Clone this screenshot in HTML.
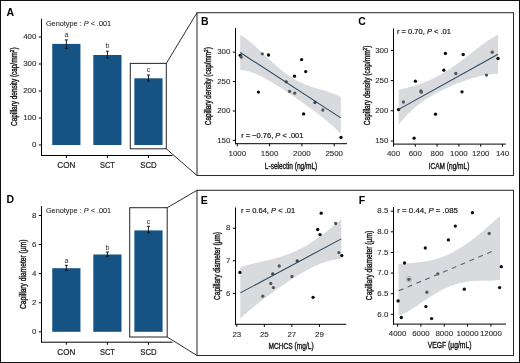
<!DOCTYPE html>
<html><head><meta charset="utf-8"><style>
html,body{margin:0;padding:0;background:#fff;}
svg{display:block;font-family:"Liberation Sans", sans-serif;will-change:transform;}
</style></head><body>
<svg width="520" height="363" viewBox="0 0 520 363">
<rect width="520" height="363" fill="#fff"/>
<rect x="0.5" y="0.5" width="519" height="362" fill="none" stroke="#111" stroke-width="1"/>
<line x1="41.5" y1="18.7" x2="41.5" y2="156.0" stroke="#000" stroke-width="1" />
<line x1="41" y1="155.5" x2="172.5" y2="155.5" stroke="#000" stroke-width="1" />
<line x1="38.8" y1="145.0" x2="41.5" y2="145.0" stroke="#000" stroke-width="1" />
<text x="36.3" y="147.2" font-size="7.9" text-anchor="end" fill="#2a2a2a" font-weight="normal" stroke="#2a2a2a" stroke-width="0.1">0</text>
<line x1="38.8" y1="118.0" x2="41.5" y2="118.0" stroke="#000" stroke-width="1" />
<text x="36.3" y="120.2" font-size="7.9" text-anchor="end" fill="#2a2a2a" font-weight="normal" stroke="#2a2a2a" stroke-width="0.1">100</text>
<line x1="38.8" y1="91.0" x2="41.5" y2="91.0" stroke="#000" stroke-width="1" />
<text x="36.3" y="93.2" font-size="7.9" text-anchor="end" fill="#2a2a2a" font-weight="normal" stroke="#2a2a2a" stroke-width="0.1">200</text>
<line x1="38.8" y1="64.0" x2="41.5" y2="64.0" stroke="#000" stroke-width="1" />
<text x="36.3" y="66.2" font-size="7.9" text-anchor="end" fill="#2a2a2a" font-weight="normal" stroke="#2a2a2a" stroke-width="0.1">300</text>
<line x1="38.8" y1="37.0" x2="41.5" y2="37.0" stroke="#000" stroke-width="1" />
<text x="36.3" y="39.2" font-size="7.9" text-anchor="end" fill="#2a2a2a" font-weight="normal" stroke="#2a2a2a" stroke-width="0.1">400</text>
<line x1="66.35" y1="155.5" x2="66.35" y2="158.1" stroke="#000" stroke-width="1" />
<line x1="107.4" y1="155.5" x2="107.4" y2="158.1" stroke="#000" stroke-width="1" />
<line x1="148.45" y1="155.5" x2="148.45" y2="158.1" stroke="#000" stroke-width="1" />
<text x="66.35" y="167.8" font-size="8.5" text-anchor="middle" fill="#2a2a2a" font-weight="normal" textLength="18.0" lengthAdjust="spacingAndGlyphs" stroke="#222" stroke-width="0.22">CON</text>
<text x="107.4" y="167.8" font-size="8.5" text-anchor="middle" fill="#2a2a2a" font-weight="normal" textLength="15.0" lengthAdjust="spacingAndGlyphs" stroke="#222" stroke-width="0.22">SCT</text>
<text x="148.45" y="167.8" font-size="8.5" text-anchor="middle" fill="#2a2a2a" font-weight="normal" textLength="16.4" lengthAdjust="spacingAndGlyphs" stroke="#222" stroke-width="0.22">SCD</text>
<rect x="52.24999999999999" y="43.9" width="28.2" height="101.1" fill="#155385"/>
<line x1="66.35" y1="39.9" x2="66.35" y2="48.4" stroke="#111" stroke-width="0.95" />
<line x1="64.85" y1="39.9" x2="67.85" y2="39.9" stroke="#111" stroke-width="0.95" />
<line x1="64.85" y1="48.4" x2="67.85" y2="48.4" stroke="#111" stroke-width="0.95" />
<text x="66.35" y="37.4" font-size="7.0" text-anchor="middle" fill="#2a2a2a" font-weight="normal" >a</text>
<rect x="93.30000000000001" y="55.0" width="28.2" height="90.0" fill="#155385"/>
<line x1="107.4" y1="51.2" x2="107.4" y2="58.1" stroke="#111" stroke-width="0.95" />
<line x1="105.9" y1="51.2" x2="108.9" y2="51.2" stroke="#111" stroke-width="0.95" />
<line x1="105.9" y1="58.1" x2="108.9" y2="58.1" stroke="#111" stroke-width="0.95" />
<text x="107.4" y="48.3" font-size="7.0" text-anchor="middle" fill="#2a2a2a" font-weight="normal" >b</text>
<rect x="134.35" y="78.3" width="28.2" height="66.7" fill="#155385"/>
<line x1="148.45" y1="75.0" x2="148.45" y2="81.0" stroke="#111" stroke-width="0.95" />
<line x1="146.95" y1="75.0" x2="149.95" y2="75.0" stroke="#111" stroke-width="0.95" />
<line x1="146.95" y1="81.0" x2="149.95" y2="81.0" stroke="#111" stroke-width="0.95" />
<text x="148.45" y="71.7" font-size="7.0" text-anchor="middle" fill="#2a2a2a" font-weight="normal" >c</text>
<text x="45.9" y="25.8" font-size="7.5" fill="#222" stroke="#222" stroke-width="0.06" textLength="65.3" lengthAdjust="spacingAndGlyphs">Genotype : <tspan font-style="italic">P</tspan> &lt; .001</text>
<text transform="translate(17.0,86.7) rotate(-90)" x="0" y="0" font-size="8.4" text-anchor="middle" fill="#1a1a1a" stroke="#1a1a1a" stroke-width="0.4" textLength="78.5" lengthAdjust="spacingAndGlyphs">Capillary density (cap/mm<tspan font-size="6" dy="-3">2</tspan><tspan dy="3">)</tspan></text>
<text x="6.6" y="15.7" font-size="10.5" text-anchor="start" fill="#000" font-weight="bold" >A</text>
<rect x="130.3" y="63.4" width="36.0" height="85.4" fill="none" stroke="#2e2e2e" stroke-width="1.05"/>
<line x1="166.3" y1="63.4" x2="197" y2="12.7" stroke="#2e2e2e" stroke-width="1.0" />
<line x1="166.3" y1="148.8" x2="197" y2="175.5" stroke="#2e2e2e" stroke-width="1.0" />
<line x1="41.5" y1="206" x2="41.5" y2="342.7" stroke="#000" stroke-width="1" />
<line x1="41" y1="342.2" x2="172.5" y2="342.2" stroke="#000" stroke-width="1" />
<line x1="38.8" y1="331.8" x2="41.5" y2="331.8" stroke="#000" stroke-width="1" />
<text x="36.3" y="334.0" font-size="7.9" text-anchor="end" fill="#2a2a2a" font-weight="normal" stroke="#2a2a2a" stroke-width="0.1">0</text>
<line x1="38.8" y1="302.72" x2="41.5" y2="302.72" stroke="#000" stroke-width="1" />
<text x="36.3" y="304.92" font-size="7.9" text-anchor="end" fill="#2a2a2a" font-weight="normal" stroke="#2a2a2a" stroke-width="0.1">2</text>
<line x1="38.8" y1="273.64" x2="41.5" y2="273.64" stroke="#000" stroke-width="1" />
<text x="36.3" y="275.84" font-size="7.9" text-anchor="end" fill="#2a2a2a" font-weight="normal" stroke="#2a2a2a" stroke-width="0.1">4</text>
<line x1="38.8" y1="244.56" x2="41.5" y2="244.56" stroke="#000" stroke-width="1" />
<text x="36.3" y="246.76" font-size="7.9" text-anchor="end" fill="#2a2a2a" font-weight="normal" stroke="#2a2a2a" stroke-width="0.1">6</text>
<line x1="38.8" y1="215.48000000000002" x2="41.5" y2="215.48000000000002" stroke="#000" stroke-width="1" />
<text x="36.3" y="217.68" font-size="7.9" text-anchor="end" fill="#2a2a2a" font-weight="normal" stroke="#2a2a2a" stroke-width="0.1">8</text>
<line x1="66.35" y1="342.2" x2="66.35" y2="344.8" stroke="#000" stroke-width="1" />
<line x1="107.4" y1="342.2" x2="107.4" y2="344.8" stroke="#000" stroke-width="1" />
<line x1="148.45" y1="342.2" x2="148.45" y2="344.8" stroke="#000" stroke-width="1" />
<text x="66.35" y="354.5" font-size="8.5" text-anchor="middle" fill="#2a2a2a" font-weight="normal" textLength="18.0" lengthAdjust="spacingAndGlyphs" stroke="#222" stroke-width="0.22">CON</text>
<text x="107.4" y="354.5" font-size="8.5" text-anchor="middle" fill="#2a2a2a" font-weight="normal" textLength="15.0" lengthAdjust="spacingAndGlyphs" stroke="#222" stroke-width="0.22">SCT</text>
<text x="148.45" y="354.5" font-size="8.5" text-anchor="middle" fill="#2a2a2a" font-weight="normal" textLength="16.4" lengthAdjust="spacingAndGlyphs" stroke="#222" stroke-width="0.22">SCD</text>
<rect x="52.24999999999999" y="268.2" width="28.2" height="63.60000000000002" fill="#155385"/>
<line x1="66.35" y1="265.3" x2="66.35" y2="270.6" stroke="#111" stroke-width="0.95" />
<line x1="64.85" y1="265.3" x2="67.85" y2="265.3" stroke="#111" stroke-width="0.95" />
<line x1="64.85" y1="270.6" x2="67.85" y2="270.6" stroke="#111" stroke-width="0.95" />
<text x="66.35" y="262.6" font-size="7.0" text-anchor="middle" fill="#2a2a2a" font-weight="normal" >a</text>
<rect x="93.30000000000001" y="254.5" width="28.2" height="77.30000000000001" fill="#155385"/>
<line x1="107.4" y1="252.0" x2="107.4" y2="256.2" stroke="#111" stroke-width="0.95" />
<line x1="105.9" y1="252.0" x2="108.9" y2="252.0" stroke="#111" stroke-width="0.95" />
<line x1="105.9" y1="256.2" x2="108.9" y2="256.2" stroke="#111" stroke-width="0.95" />
<text x="107.4" y="249.6" font-size="7.0" text-anchor="middle" fill="#2a2a2a" font-weight="normal" >b</text>
<rect x="134.35" y="230.4" width="28.2" height="101.4" fill="#155385"/>
<line x1="148.45" y1="226.3" x2="148.45" y2="232.8" stroke="#111" stroke-width="0.95" />
<line x1="146.95" y1="226.3" x2="149.95" y2="226.3" stroke="#111" stroke-width="0.95" />
<line x1="146.95" y1="232.8" x2="149.95" y2="232.8" stroke="#111" stroke-width="0.95" />
<text x="148.45" y="223.7" font-size="7.0" text-anchor="middle" fill="#2a2a2a" font-weight="normal" >c</text>
<text x="45.9" y="213.1" font-size="7.5" fill="#222" stroke="#222" stroke-width="0.06" textLength="65.3" lengthAdjust="spacingAndGlyphs">Genotype : <tspan font-style="italic">P</tspan> &lt; .001</text>
<text transform="translate(25.8,274.3) rotate(-90)" x="0" y="0" font-size="8.4" text-anchor="middle" fill="#1a1a1a" stroke="#1a1a1a" stroke-width="0.4" textLength="69.5" lengthAdjust="spacingAndGlyphs">Capillary diameter (µm)</text>
<text x="6.6" y="203.2" font-size="10.5" text-anchor="start" fill="#000" font-weight="bold" >D</text>
<rect x="129.7" y="207.7" width="37.5" height="129.3" fill="none" stroke="#2e2e2e" stroke-width="1.05"/>
<line x1="167.2" y1="207.7" x2="197" y2="190.3" stroke="#2e2e2e" stroke-width="1.0" />
<line x1="167.2" y1="337.0" x2="197" y2="355.5" stroke="#2e2e2e" stroke-width="1.0" />
<rect x="197" y="12.7" width="316.5" height="162.8" fill="none" stroke="#2e2e2e" stroke-width="1.05"/>
<rect x="197" y="190.3" width="316.5" height="165.2" fill="none" stroke="#2e2e2e" stroke-width="1.05"/>
<path d="M240.20,34.66 L241.47,35.40 L242.75,36.20 L244.02,37.05 L245.29,37.95 L246.57,38.90 L247.84,39.89 L249.11,40.91 L250.39,41.97 L251.66,43.05 L252.93,44.17 L254.21,45.30 L255.48,46.46 L256.75,47.63 L258.03,48.82 L259.30,50.02 L260.57,51.22 L261.85,52.44 L263.12,53.65 L264.39,54.86 L265.67,56.07 L266.94,57.28 L268.22,58.48 L269.49,59.67 L270.76,60.86 L272.04,62.03 L273.31,63.18 L274.58,64.32 L275.86,65.44 L277.13,66.54 L278.40,67.62 L279.68,68.68 L280.95,69.72 L282.22,70.74 L283.50,71.73 L284.77,72.69 L286.04,73.63 L287.32,74.54 L288.59,75.43 L289.86,76.29 L291.14,77.12 L292.41,77.92 L293.68,78.69 L294.96,79.44 L296.23,80.16 L297.50,80.85 L298.78,81.52 L300.05,82.15 L301.32,82.76 L302.60,83.35 L303.87,83.91 L305.14,84.45 L306.42,84.97 L307.69,85.46 L308.96,85.93 L310.24,86.39 L311.51,86.83 L312.78,87.25 L314.06,87.65 L315.33,88.05 L316.61,88.43 L317.88,88.80 L319.15,89.17 L320.43,89.53 L321.70,89.89 L322.97,90.26 L324.25,90.62 L325.52,90.99 L326.79,91.36 L328.07,91.75 L329.34,92.15 L330.61,92.56 L331.89,93.00 L333.16,93.46 L334.43,93.94 L335.71,94.46 L336.98,95.00 L338.25,95.59 L339.53,96.21 L340.80,96.88 L340.80,133.72 L339.53,132.42 L338.25,131.16 L336.98,129.92 L335.71,128.72 L334.43,127.53 L333.16,126.37 L331.89,125.23 L330.61,124.11 L329.34,123.01 L328.07,121.93 L326.79,120.87 L325.52,119.82 L324.25,118.79 L322.97,117.77 L321.70,116.76 L320.43,115.77 L319.15,114.79 L317.88,113.81 L316.61,112.85 L315.33,111.89 L314.06,110.95 L312.78,110.01 L311.51,109.08 L310.24,108.15 L308.96,107.23 L307.69,106.31 L306.42,105.40 L305.14,104.49 L303.87,103.59 L302.60,102.69 L301.32,101.80 L300.05,100.90 L298.78,100.02 L297.50,99.13 L296.23,98.25 L294.96,97.37 L293.68,96.49 L292.41,95.62 L291.14,94.75 L289.86,93.88 L288.59,93.02 L287.32,92.16 L286.04,91.31 L284.77,90.46 L283.50,89.61 L282.22,88.77 L280.95,87.94 L279.68,87.12 L278.40,86.30 L277.13,85.49 L275.86,84.69 L274.58,83.89 L273.31,83.11 L272.04,82.34 L270.76,81.58 L269.49,80.83 L268.22,80.10 L266.94,79.38 L265.67,78.68 L264.39,78.00 L263.12,77.33 L261.85,76.69 L260.57,76.06 L259.30,75.46 L258.03,74.88 L256.75,74.32 L255.48,73.79 L254.21,73.29 L252.93,72.82 L251.66,72.38 L250.39,71.97 L249.11,71.60 L247.84,71.26 L246.57,70.96 L245.29,70.70 L244.02,70.48 L242.75,70.30 L241.47,70.17 L240.20,70.09 Z" fill="#d9dadd"/>
<circle cx="240.2" cy="55.3" r="1.65" fill="#0a0a0a"/>
<circle cx="241.2" cy="57" r="1.65" fill="#535559"/>
<circle cx="262.3" cy="53.8" r="1.65" fill="#535559"/>
<circle cx="268.5" cy="55" r="1.65" fill="#0a0a0a"/>
<circle cx="301.6" cy="59.6" r="1.65" fill="#0a0a0a"/>
<circle cx="305.7" cy="71.6" r="1.65" fill="#0a0a0a"/>
<circle cx="294.5" cy="76.2" r="1.65" fill="#0a0a0a"/>
<circle cx="286.2" cy="81.8" r="1.65" fill="#3c4854"/>
<circle cx="258.4" cy="92.1" r="1.65" fill="#0a0a0a"/>
<circle cx="289.6" cy="91.4" r="1.65" fill="#535559"/>
<circle cx="294.7" cy="93.2" r="1.65" fill="#535559"/>
<circle cx="315" cy="102.5" r="1.65" fill="#3c4854"/>
<circle cx="322.9" cy="110" r="1.65" fill="#535559"/>
<circle cx="303.6" cy="113.9" r="1.65" fill="#0a0a0a"/>
<circle cx="341" cy="137.4" r="1.65" fill="#0a0a0a"/>
<line x1="240.2" y1="52.5" x2="340.8" y2="117.9" stroke="#2a4560" stroke-width="1.05"/>
<line x1="235.5" y1="28" x2="235.5" y2="144.2" stroke="#000" stroke-width="1" />
<line x1="235.0" y1="143.7" x2="347" y2="143.7" stroke="#000" stroke-width="1" />
<line x1="232.8" y1="140.405" x2="235.5" y2="140.405" stroke="#000" stroke-width="1" />
<text x="230.3" y="142.605" font-size="7.9" text-anchor="end" fill="#2a2a2a" font-weight="normal" stroke="#2a2a2a" stroke-width="0.1">150</text>
<line x1="232.8" y1="110.97" x2="235.5" y2="110.97" stroke="#000" stroke-width="1" />
<text x="230.3" y="113.17" font-size="7.9" text-anchor="end" fill="#2a2a2a" font-weight="normal" stroke="#2a2a2a" stroke-width="0.1">200</text>
<line x1="232.8" y1="81.535" x2="235.5" y2="81.535" stroke="#000" stroke-width="1" />
<text x="230.3" y="83.735" font-size="7.9" text-anchor="end" fill="#2a2a2a" font-weight="normal" stroke="#2a2a2a" stroke-width="0.1">250</text>
<line x1="232.8" y1="52.1" x2="235.5" y2="52.1" stroke="#000" stroke-width="1" />
<text x="230.3" y="54.300000000000004" font-size="7.9" text-anchor="end" fill="#2a2a2a" font-weight="normal" stroke="#2a2a2a" stroke-width="0.1">300</text>
<line x1="237.3" y1="143.7" x2="237.3" y2="146.29999999999998" stroke="#000" stroke-width="1" />
<text x="237.3" y="156.0" font-size="7.9" text-anchor="middle" fill="#2a2a2a" font-weight="normal" stroke="#2a2a2a" stroke-width="0.1">1000</text>
<line x1="269.6" y1="143.7" x2="269.6" y2="146.29999999999998" stroke="#000" stroke-width="1" />
<text x="269.6" y="156.0" font-size="7.9" text-anchor="middle" fill="#2a2a2a" font-weight="normal" stroke="#2a2a2a" stroke-width="0.1">1500</text>
<line x1="301.90000000000003" y1="143.7" x2="301.90000000000003" y2="146.29999999999998" stroke="#000" stroke-width="1" />
<text x="301.90000000000003" y="156.0" font-size="7.9" text-anchor="middle" fill="#2a2a2a" font-weight="normal" stroke="#2a2a2a" stroke-width="0.1">2000</text>
<line x1="334.20000000000005" y1="143.7" x2="334.20000000000005" y2="146.29999999999998" stroke="#000" stroke-width="1" />
<text x="334.20000000000005" y="156.0" font-size="7.9" text-anchor="middle" fill="#2a2a2a" font-weight="normal" stroke="#2a2a2a" stroke-width="0.1">2500</text>
<text x="264.8" y="168.6" font-size="8.4" text-anchor="start" fill="#1a1a1a" font-weight="normal" textLength="52.5" lengthAdjust="spacingAndGlyphs" stroke="#1a1a1a" stroke-width="0.4">L-selectin (ng/mL)</text>
<text transform="translate(211.2,86.2) rotate(-90)" x="0" y="0" font-size="8.4" text-anchor="middle" fill="#1a1a1a" stroke="#1a1a1a" stroke-width="0.4" textLength="78" lengthAdjust="spacingAndGlyphs">Capillary density (cap/mm<tspan font-size="6" dy="-3">2</tspan><tspan dy="3">)</tspan></text>
<text x="241.2" y="137.6" font-size="7.9" fill="#1a1a1a" stroke="#222" stroke-width="0.22" textLength="62.2" lengthAdjust="spacingAndGlyphs">r = −0.76, <tspan font-style="italic">P</tspan> &lt; .001</text>
<text x="201" y="24.8" font-size="10.5" text-anchor="start" fill="#000" font-weight="bold" >B</text>
<path d="M398.70,89.86 L399.96,89.55 L401.21,89.24 L402.47,88.93 L403.73,88.61 L404.98,88.30 L406.24,87.98 L407.50,87.65 L408.76,87.32 L410.01,86.98 L411.27,86.63 L412.53,86.28 L413.78,85.91 L415.04,85.53 L416.30,85.14 L417.55,84.74 L418.81,84.32 L420.07,83.89 L421.33,83.45 L422.58,82.99 L423.84,82.52 L425.10,82.03 L426.35,81.52 L427.61,81.00 L428.87,80.46 L430.12,79.90 L431.38,79.33 L432.64,78.74 L433.89,78.13 L435.15,77.51 L436.41,76.86 L437.67,76.20 L438.92,75.52 L440.18,74.82 L441.44,74.11 L442.69,73.38 L443.95,72.63 L445.21,71.86 L446.46,71.08 L447.72,70.28 L448.98,69.47 L450.24,68.64 L451.49,67.79 L452.75,66.93 L454.01,66.06 L455.26,65.18 L456.52,64.28 L457.78,63.37 L459.03,62.45 L460.29,61.52 L461.55,60.57 L462.81,59.63 L464.06,58.67 L465.32,57.71 L466.58,56.74 L467.83,55.76 L469.09,54.79 L470.35,53.81 L471.60,52.83 L472.86,51.85 L474.12,50.87 L475.37,49.89 L476.63,48.92 L477.89,47.96 L479.15,47.00 L480.40,46.05 L481.66,45.11 L482.92,44.18 L484.17,43.26 L485.43,42.36 L486.69,41.48 L487.94,40.62 L489.20,39.77 L490.46,38.95 L491.72,38.15 L492.97,37.38 L494.23,36.63 L495.49,35.92 L496.74,35.24 L498.00,34.59 L498.00,73.94 L496.74,73.93 L495.49,73.96 L494.23,74.01 L492.97,74.09 L491.72,74.19 L490.46,74.32 L489.20,74.47 L487.94,74.65 L486.69,74.84 L485.43,75.05 L484.17,75.29 L482.92,75.54 L481.66,75.81 L480.40,76.09 L479.15,76.39 L477.89,76.71 L476.63,77.03 L475.37,77.38 L474.12,77.73 L472.86,78.10 L471.60,78.48 L470.35,78.87 L469.09,79.27 L467.83,79.69 L466.58,80.11 L465.32,80.54 L464.06,80.98 L462.81,81.44 L461.55,81.90 L460.29,82.37 L459.03,82.84 L457.78,83.33 L456.52,83.83 L455.26,84.33 L454.01,84.85 L452.75,85.37 L451.49,85.90 L450.24,86.44 L448.98,86.99 L447.72,87.56 L446.46,88.13 L445.21,88.71 L443.95,89.30 L442.69,89.90 L441.44,90.52 L440.18,91.14 L438.92,91.78 L437.67,92.44 L436.41,93.11 L435.15,93.79 L433.89,94.49 L432.64,95.20 L431.38,95.93 L430.12,96.68 L428.87,97.45 L427.61,98.23 L426.35,99.04 L425.10,99.87 L423.84,100.73 L422.58,101.60 L421.33,102.50 L420.07,103.43 L418.81,104.39 L417.55,105.37 L416.30,106.38 L415.04,107.43 L413.78,108.51 L412.53,109.62 L411.27,110.77 L410.01,111.95 L408.76,113.17 L407.50,114.44 L406.24,115.74 L404.98,117.09 L403.73,118.49 L402.47,119.93 L401.21,121.42 L399.96,122.96 L398.70,124.55 Z" fill="#d9dadd"/>
<circle cx="445.4" cy="53.4" r="1.65" fill="#0a0a0a"/>
<circle cx="463.2" cy="54.5" r="1.65" fill="#0a0a0a"/>
<circle cx="492.2" cy="52.2" r="1.65" fill="#535559"/>
<circle cx="498" cy="58.5" r="1.65" fill="#0a0a0a"/>
<circle cx="443.8" cy="70.2" r="1.65" fill="#0a0a0a"/>
<circle cx="455.8" cy="73.5" r="1.65" fill="#535559"/>
<circle cx="486.5" cy="75.1" r="1.65" fill="#535559"/>
<circle cx="415.4" cy="81.2" r="1.65" fill="#0a0a0a"/>
<circle cx="420.9" cy="91.0" r="1.65" fill="#535559"/>
<circle cx="421.3" cy="92.2" r="1.65" fill="#535559"/>
<circle cx="462" cy="91.8" r="1.65" fill="#0a0a0a"/>
<circle cx="403.4" cy="102" r="1.65" fill="#535559"/>
<circle cx="398.5" cy="109.6" r="1.65" fill="#0a0a0a"/>
<circle cx="435.5" cy="114.2" r="1.65" fill="#0a0a0a"/>
<circle cx="414.1" cy="138.2" r="1.65" fill="#0a0a0a"/>
<line x1="398.7" y1="109.4" x2="498" y2="54.3" stroke="#2a4560" stroke-width="1.05"/>
<line x1="393.5" y1="28.5" x2="393.5" y2="144.6" stroke="#000" stroke-width="1" />
<line x1="393.0" y1="144.1" x2="505.8" y2="144.1" stroke="#000" stroke-width="1" />
<line x1="390.8" y1="141.0" x2="393.5" y2="141.0" stroke="#000" stroke-width="1" />
<text x="388.3" y="143.2" font-size="7.9" text-anchor="end" fill="#2a2a2a" font-weight="normal" stroke="#2a2a2a" stroke-width="0.1">150</text>
<line x1="390.8" y1="110.8" x2="393.5" y2="110.8" stroke="#000" stroke-width="1" />
<text x="388.3" y="113.0" font-size="7.9" text-anchor="end" fill="#2a2a2a" font-weight="normal" stroke="#2a2a2a" stroke-width="0.1">200</text>
<line x1="390.8" y1="80.6" x2="393.5" y2="80.6" stroke="#000" stroke-width="1" />
<text x="388.3" y="82.8" font-size="7.9" text-anchor="end" fill="#2a2a2a" font-weight="normal" stroke="#2a2a2a" stroke-width="0.1">250</text>
<line x1="390.8" y1="50.4" x2="393.5" y2="50.4" stroke="#000" stroke-width="1" />
<text x="388.3" y="52.6" font-size="7.9" text-anchor="end" fill="#2a2a2a" font-weight="normal" stroke="#2a2a2a" stroke-width="0.1">300</text>
<line x1="393.5" y1="144.1" x2="393.5" y2="146.7" stroke="#000" stroke-width="1" />
<text x="393.5" y="156.4" font-size="7.9" text-anchor="middle" fill="#2a2a2a" font-weight="normal" stroke="#2a2a2a" stroke-width="0.1">400</text>
<line x1="415.3" y1="144.1" x2="415.3" y2="146.7" stroke="#000" stroke-width="1" />
<text x="415.3" y="156.4" font-size="7.9" text-anchor="middle" fill="#2a2a2a" font-weight="normal" stroke="#2a2a2a" stroke-width="0.1">600</text>
<line x1="437.1" y1="144.1" x2="437.1" y2="146.7" stroke="#000" stroke-width="1" />
<text x="437.1" y="156.4" font-size="7.9" text-anchor="middle" fill="#2a2a2a" font-weight="normal" stroke="#2a2a2a" stroke-width="0.1">800</text>
<line x1="458.9" y1="144.1" x2="458.9" y2="146.7" stroke="#000" stroke-width="1" />
<text x="458.9" y="156.4" font-size="7.9" text-anchor="middle" fill="#2a2a2a" font-weight="normal" stroke="#2a2a2a" stroke-width="0.1">1000</text>
<line x1="480.7" y1="144.1" x2="480.7" y2="146.7" stroke="#000" stroke-width="1" />
<text x="480.7" y="156.4" font-size="7.9" text-anchor="middle" fill="#2a2a2a" font-weight="normal" stroke="#2a2a2a" stroke-width="0.1">1200</text>
<line x1="502.5" y1="144.1" x2="502.5" y2="146.7" stroke="#000" stroke-width="1" />
<text x="502.5" y="156.4" font-size="7.9" text-anchor="middle" fill="#2a2a2a" font-weight="normal" stroke="#2a2a2a" stroke-width="0.1">140</text>
<text x="428.6" y="168.8" font-size="8.4" text-anchor="start" fill="#1a1a1a" font-weight="normal" textLength="40.8" lengthAdjust="spacingAndGlyphs" stroke="#1a1a1a" stroke-width="0.4">ICAM (ng/mL)</text>
<text transform="translate(370.3,85.4) rotate(-90)" x="0" y="0" font-size="8.4" text-anchor="middle" fill="#1a1a1a" stroke="#1a1a1a" stroke-width="0.4" textLength="79.5" lengthAdjust="spacingAndGlyphs">Capillary density (cap/mm<tspan font-size="6" dy="-3">2</tspan><tspan dy="3">)</tspan></text>
<text x="397.0" y="34.3" font-size="7.9" fill="#1a1a1a" stroke="#222" stroke-width="0.22" textLength="54.0" lengthAdjust="spacingAndGlyphs">r = 0.70, <tspan font-style="italic">P</tspan> &lt; .01</text>
<text x="358.3" y="25" font-size="10.5" text-anchor="start" fill="#000" font-weight="bold" >C</text>
<path d="M240.30,267.44 L241.58,266.98 L242.86,266.54 L244.14,266.13 L245.41,265.73 L246.69,265.35 L247.97,264.99 L249.25,264.64 L250.53,264.30 L251.81,263.97 L253.08,263.65 L254.36,263.34 L255.64,263.04 L256.92,262.74 L258.20,262.45 L259.48,262.16 L260.76,261.87 L262.03,261.58 L263.31,261.29 L264.59,261.00 L265.87,260.70 L267.15,260.40 L268.43,260.10 L269.71,259.79 L270.98,259.47 L272.26,259.15 L273.54,258.82 L274.82,258.48 L276.10,258.12 L277.38,257.76 L278.65,257.39 L279.93,257.00 L281.21,256.60 L282.49,256.19 L283.77,255.76 L285.05,255.32 L286.33,254.86 L287.60,254.38 L288.88,253.90 L290.16,253.39 L291.44,252.87 L292.72,252.33 L294.00,251.77 L295.27,251.19 L296.55,250.60 L297.83,249.98 L299.11,249.35 L300.39,248.70 L301.67,248.04 L302.95,247.35 L304.22,246.64 L305.50,245.92 L306.78,245.17 L308.06,244.41 L309.34,243.63 L310.62,242.83 L311.89,242.01 L313.17,241.18 L314.45,240.33 L315.73,239.45 L317.01,238.57 L318.29,237.66 L319.57,236.74 L320.84,235.80 L322.12,234.85 L323.40,233.88 L324.68,232.90 L325.96,231.90 L327.24,230.89 L328.52,229.87 L329.79,228.83 L331.07,227.79 L332.35,226.73 L333.63,225.66 L334.91,224.59 L336.19,223.50 L337.46,222.41 L338.74,221.31 L340.02,220.21 L341.30,219.10 L341.30,259.05 L340.02,259.09 L338.74,259.18 L337.46,259.29 L336.19,259.45 L334.91,259.63 L333.63,259.85 L332.35,260.10 L331.07,260.38 L329.79,260.69 L328.52,261.03 L327.24,261.39 L325.96,261.79 L324.68,262.20 L323.40,262.65 L322.12,263.11 L320.84,263.60 L319.57,264.11 L318.29,264.64 L317.01,265.19 L315.73,265.76 L314.45,266.35 L313.17,266.96 L311.89,267.58 L310.62,268.22 L309.34,268.88 L308.06,269.55 L306.78,270.24 L305.50,270.94 L304.22,271.65 L302.95,272.38 L301.67,273.12 L300.39,273.87 L299.11,274.63 L297.83,275.40 L296.55,276.19 L295.27,276.98 L294.00,277.78 L292.72,278.59 L291.44,279.41 L290.16,280.24 L288.88,281.08 L287.60,281.93 L286.33,282.78 L285.05,283.64 L283.77,284.51 L282.49,285.39 L281.21,286.27 L279.93,287.16 L278.65,288.05 L277.38,288.96 L276.10,289.86 L274.82,290.78 L273.54,291.70 L272.26,292.63 L270.98,293.57 L269.71,294.51 L268.43,295.46 L267.15,296.41 L265.87,297.37 L264.59,298.34 L263.31,299.32 L262.03,300.30 L260.76,301.29 L259.48,302.29 L258.20,303.30 L256.92,304.31 L255.64,305.34 L254.36,306.37 L253.08,307.41 L251.81,308.47 L250.53,309.53 L249.25,310.60 L247.97,311.68 L246.69,312.78 L245.41,313.89 L244.14,315.01 L242.86,316.14 L241.58,317.29 L240.30,318.45 Z" fill="#d9dadd"/>
<circle cx="321.2" cy="213.2" r="1.65" fill="#0a0a0a"/>
<circle cx="335.7" cy="223.5" r="1.65" fill="#535559"/>
<circle cx="317.7" cy="229.5" r="1.65" fill="#0a0a0a"/>
<circle cx="320" cy="234.6" r="1.65" fill="#0a0a0a"/>
<circle cx="338.9" cy="252.6" r="1.65" fill="#535559"/>
<circle cx="341.8" cy="255.6" r="1.65" fill="#0a0a0a"/>
<circle cx="297.2" cy="261" r="1.65" fill="#3c4854"/>
<circle cx="279.2" cy="266" r="1.65" fill="#535559"/>
<circle cx="239.9" cy="272.4" r="1.65" fill="#0a0a0a"/>
<circle cx="272.7" cy="273.8" r="1.65" fill="#3c4854"/>
<circle cx="291.9" cy="276.5" r="1.65" fill="#535559"/>
<circle cx="270.8" cy="283.5" r="1.65" fill="#535559"/>
<circle cx="273.4" cy="287.6" r="1.65" fill="#535559"/>
<circle cx="262.8" cy="296.2" r="1.65" fill="#535559"/>
<circle cx="313.1" cy="297.3" r="1.65" fill="#0a0a0a"/>
<line x1="240.3" y1="292.9" x2="341.3" y2="238.9" stroke="#2a4560" stroke-width="1.05"/>
<line x1="235.5" y1="207.5" x2="235.5" y2="324.8" stroke="#000" stroke-width="1" />
<line x1="235.0" y1="324.3" x2="346.2" y2="324.3" stroke="#000" stroke-width="1" />
<line x1="232.8" y1="293.4" x2="235.5" y2="293.4" stroke="#000" stroke-width="1" />
<text x="230.3" y="295.59999999999997" font-size="7.9" text-anchor="end" fill="#2a2a2a" font-weight="normal" stroke="#2a2a2a" stroke-width="0.1">6</text>
<line x1="232.8" y1="260.8" x2="235.5" y2="260.8" stroke="#000" stroke-width="1" />
<text x="230.3" y="263.0" font-size="7.9" text-anchor="end" fill="#2a2a2a" font-weight="normal" stroke="#2a2a2a" stroke-width="0.1">7</text>
<line x1="232.8" y1="228.2" x2="235.5" y2="228.2" stroke="#000" stroke-width="1" />
<text x="230.3" y="230.39999999999998" font-size="7.9" text-anchor="end" fill="#2a2a2a" font-weight="normal" stroke="#2a2a2a" stroke-width="0.1">8</text>
<line x1="236.8" y1="324.3" x2="236.8" y2="326.90000000000003" stroke="#000" stroke-width="1" />
<text x="236.8" y="336.6" font-size="7.9" text-anchor="middle" fill="#2a2a2a" font-weight="normal" stroke="#2a2a2a" stroke-width="0.1">23</text>
<line x1="264.34000000000003" y1="324.3" x2="264.34000000000003" y2="326.90000000000003" stroke="#000" stroke-width="1" />
<text x="264.34000000000003" y="336.6" font-size="7.9" text-anchor="middle" fill="#2a2a2a" font-weight="normal" stroke="#2a2a2a" stroke-width="0.1">25</text>
<line x1="291.88" y1="324.3" x2="291.88" y2="326.90000000000003" stroke="#000" stroke-width="1" />
<text x="291.88" y="336.6" font-size="7.9" text-anchor="middle" fill="#2a2a2a" font-weight="normal" stroke="#2a2a2a" stroke-width="0.1">27</text>
<line x1="319.42" y1="324.3" x2="319.42" y2="326.90000000000003" stroke="#000" stroke-width="1" />
<text x="319.42" y="336.6" font-size="7.9" text-anchor="middle" fill="#2a2a2a" font-weight="normal" stroke="#2a2a2a" stroke-width="0.1">29</text>
<text x="268.5" y="348.7" font-size="8.4" text-anchor="start" fill="#1a1a1a" font-weight="normal" textLength="45.2" lengthAdjust="spacingAndGlyphs" stroke="#1a1a1a" stroke-width="0.4">MCHCS (mg/L)</text>
<text transform="translate(220,266) rotate(-90)" x="0" y="0" font-size="8.4" text-anchor="middle" fill="#1a1a1a" stroke="#1a1a1a" stroke-width="0.4" textLength="67.8" lengthAdjust="spacingAndGlyphs">Capillary diameter (µm)</text>
<text x="241.1" y="213.4" font-size="7.9" fill="#1a1a1a" stroke="#222" stroke-width="0.22" textLength="54.0" lengthAdjust="spacingAndGlyphs">r = 0.64, <tspan font-style="italic">P</tspan> &lt; .01</text>
<text x="200.8" y="203.7" font-size="10.5" text-anchor="start" fill="#000" font-weight="bold" >E</text>
<path d="M398.50,264.36 L399.78,264.20 L401.07,264.06 L402.35,263.93 L403.64,263.80 L404.92,263.68 L406.21,263.56 L407.49,263.45 L408.78,263.34 L410.06,263.22 L411.35,263.11 L412.63,262.99 L413.92,262.87 L415.20,262.75 L416.49,262.61 L417.77,262.47 L419.06,262.32 L420.34,262.16 L421.63,261.99 L422.91,261.81 L424.20,261.61 L425.48,261.40 L426.77,261.17 L428.05,260.93 L429.34,260.67 L430.62,260.39 L431.91,260.09 L433.19,259.78 L434.47,259.44 L435.76,259.09 L437.04,258.71 L438.33,258.32 L439.61,257.90 L440.90,257.46 L442.18,257.00 L443.47,256.51 L444.75,256.00 L446.04,255.47 L447.32,254.92 L448.61,254.34 L449.89,253.74 L451.18,253.11 L452.46,252.46 L453.75,251.79 L455.03,251.09 L456.32,250.37 L457.60,249.63 L458.89,248.87 L460.17,248.08 L461.46,247.27 L462.74,246.44 L464.03,245.59 L465.31,244.71 L466.59,243.82 L467.88,242.91 L469.16,241.97 L470.45,241.02 L471.73,240.05 L473.02,239.06 L474.30,238.06 L475.59,237.04 L476.87,236.01 L478.16,234.96 L479.44,233.90 L480.73,232.83 L482.01,231.75 L483.30,230.66 L484.58,229.55 L485.87,228.45 L487.15,227.33 L488.44,226.21 L489.72,225.09 L491.01,223.97 L492.29,222.84 L493.58,221.72 L494.86,220.59 L496.15,219.48 L497.43,218.36 L498.72,217.26 L500.00,216.16 L500.00,279.84 L498.72,280.02 L497.43,280.17 L496.15,280.29 L494.86,280.40 L493.58,280.48 L492.29,280.54 L491.01,280.59 L489.72,280.63 L488.44,280.66 L487.15,280.69 L485.87,280.71 L484.58,280.72 L483.30,280.74 L482.01,280.76 L480.73,280.79 L479.44,280.81 L478.16,280.85 L476.87,280.90 L475.59,280.96 L474.30,281.03 L473.02,281.12 L471.73,281.22 L470.45,281.34 L469.16,281.48 L467.88,281.63 L466.59,281.81 L465.31,282.01 L464.03,282.23 L462.74,282.48 L461.46,282.75 L460.17,283.04 L458.89,283.36 L457.60,283.70 L456.32,284.07 L455.03,284.46 L453.75,284.88 L452.46,285.33 L451.18,285.80 L449.89,286.30 L448.61,286.83 L447.32,287.38 L446.04,287.96 L444.75,288.56 L443.47,289.18 L442.18,289.83 L440.90,290.51 L439.61,291.20 L438.33,291.92 L437.04,292.65 L435.76,293.41 L434.47,294.18 L433.19,294.97 L431.91,295.78 L430.62,296.60 L429.34,297.43 L428.05,298.27 L426.77,299.13 L425.48,299.99 L424.20,300.85 L422.91,301.72 L421.63,302.60 L420.34,303.47 L419.06,304.34 L417.77,305.20 L416.49,306.06 L415.20,306.91 L413.92,307.74 L412.63,308.56 L411.35,309.37 L410.06,310.15 L408.78,310.91 L407.49,311.64 L406.21,312.35 L404.92,313.02 L403.64,313.65 L402.35,314.25 L401.07,314.80 L399.78,315.31 L398.50,315.77 Z" fill="#d9dadd"/>
<circle cx="472.4" cy="212.7" r="1.65" fill="#0a0a0a"/>
<circle cx="455.3" cy="226.1" r="1.65" fill="#0a0a0a"/>
<circle cx="489.2" cy="233.5" r="1.65" fill="#535559"/>
<circle cx="448.4" cy="239.9" r="1.65" fill="#0a0a0a"/>
<circle cx="425.3" cy="248" r="1.65" fill="#0a0a0a"/>
<circle cx="404.5" cy="263" r="1.65" fill="#0a0a0a"/>
<circle cx="501.3" cy="266.7" r="1.65" fill="#0a0a0a"/>
<circle cx="408.9" cy="279.3" r="2.7" fill="none" stroke="#a9a9ad" stroke-width="0.8"/>
<circle cx="408.9" cy="279.3" r="1.65" fill="#535559"/>
<circle cx="437.8" cy="273.8" r="1.65" fill="#535559"/>
<circle cx="426.9" cy="292.2" r="1.65" fill="#535559"/>
<circle cx="464.3" cy="289.2" r="1.65" fill="#0a0a0a"/>
<circle cx="499.6" cy="287.6" r="1.65" fill="#0a0a0a"/>
<circle cx="398.1" cy="300.9" r="1.65" fill="#0a0a0a"/>
<circle cx="425.9" cy="306.6" r="1.65" fill="#0a0a0a"/>
<circle cx="401.3" cy="317.5" r="1.65" fill="#0a0a0a"/>
<circle cx="431.6" cy="318.6" r="1.65" fill="#0a0a0a"/>
<line x1="398.7" y1="290.8" x2="496" y2="249.8" stroke="#54687c" stroke-width="1.15" stroke-dasharray="5,4.6"/>
<line x1="393.5" y1="207" x2="393.5" y2="324.6" stroke="#000" stroke-width="1" />
<line x1="393.0" y1="324.1" x2="506" y2="324.1" stroke="#000" stroke-width="1" />
<line x1="390.8" y1="314.325" x2="393.5" y2="314.325" stroke="#000" stroke-width="1" />
<text x="388.3" y="316.525" font-size="7.9" text-anchor="end" fill="#2a2a2a" font-weight="normal" stroke="#2a2a2a" stroke-width="0.1">6.0</text>
<line x1="390.8" y1="293.7" x2="393.5" y2="293.7" stroke="#000" stroke-width="1" />
<text x="388.3" y="295.9" font-size="7.9" text-anchor="end" fill="#2a2a2a" font-weight="normal" stroke="#2a2a2a" stroke-width="0.1">6.5</text>
<line x1="390.8" y1="273.075" x2="393.5" y2="273.075" stroke="#000" stroke-width="1" />
<text x="388.3" y="275.275" font-size="7.9" text-anchor="end" fill="#2a2a2a" font-weight="normal" stroke="#2a2a2a" stroke-width="0.1">7.0</text>
<line x1="390.8" y1="252.45" x2="393.5" y2="252.45" stroke="#000" stroke-width="1" />
<text x="388.3" y="254.64999999999998" font-size="7.9" text-anchor="end" fill="#2a2a2a" font-weight="normal" stroke="#2a2a2a" stroke-width="0.1">7.5</text>
<line x1="390.8" y1="231.825" x2="393.5" y2="231.825" stroke="#000" stroke-width="1" />
<text x="388.3" y="234.02499999999998" font-size="7.9" text-anchor="end" fill="#2a2a2a" font-weight="normal" stroke="#2a2a2a" stroke-width="0.1">8.0</text>
<line x1="390.8" y1="211.2" x2="393.5" y2="211.2" stroke="#000" stroke-width="1" />
<text x="388.3" y="213.39999999999998" font-size="7.9" text-anchor="end" fill="#2a2a2a" font-weight="normal" stroke="#2a2a2a" stroke-width="0.1">8.5</text>
<line x1="397.6" y1="324.1" x2="397.6" y2="326.70000000000005" stroke="#000" stroke-width="1" />
<text x="397.6" y="336.40000000000003" font-size="7.9" text-anchor="middle" fill="#2a2a2a" font-weight="normal" stroke="#2a2a2a" stroke-width="0.1">4000</text>
<line x1="420.92600000000004" y1="324.1" x2="420.92600000000004" y2="326.70000000000005" stroke="#000" stroke-width="1" />
<text x="420.92600000000004" y="336.40000000000003" font-size="7.9" text-anchor="middle" fill="#2a2a2a" font-weight="normal" stroke="#2a2a2a" stroke-width="0.1">6000</text>
<line x1="444.252" y1="324.1" x2="444.252" y2="326.70000000000005" stroke="#000" stroke-width="1" />
<text x="444.252" y="336.40000000000003" font-size="7.9" text-anchor="middle" fill="#2a2a2a" font-weight="normal" stroke="#2a2a2a" stroke-width="0.1">8000</text>
<line x1="467.57800000000003" y1="324.1" x2="467.57800000000003" y2="326.70000000000005" stroke="#000" stroke-width="1" />
<text x="467.57800000000003" y="336.40000000000003" font-size="7.9" text-anchor="middle" fill="#2a2a2a" font-weight="normal" stroke="#2a2a2a" stroke-width="0.1">10000</text>
<line x1="490.904" y1="324.1" x2="490.904" y2="326.70000000000005" stroke="#000" stroke-width="1" />
<text x="490.904" y="336.40000000000003" font-size="7.9" text-anchor="middle" fill="#2a2a2a" font-weight="normal" stroke="#2a2a2a" stroke-width="0.1">12000</text>
<text x="427.8" y="348.0" font-size="8.4" text-anchor="start" fill="#1a1a1a" font-weight="normal" textLength="43.6" lengthAdjust="spacingAndGlyphs" stroke="#1a1a1a" stroke-width="0.4">VEGF (µg/mL)</text>
<text transform="translate(371.6,265.5) rotate(-90)" x="0" y="0" font-size="8.4" text-anchor="middle" fill="#1a1a1a" stroke="#1a1a1a" stroke-width="0.4" textLength="69.3" lengthAdjust="spacingAndGlyphs">Capillary diameter (µm)</text>
<text x="397.3" y="213.4" font-size="7.9" fill="#1a1a1a" stroke="#222" stroke-width="0.22" textLength="60.6" lengthAdjust="spacingAndGlyphs">r = 0.44, <tspan font-style="italic">P</tspan> = .085</text>
<text x="358.7" y="203.7" font-size="10.5" text-anchor="start" fill="#000" font-weight="bold" >F</text>
</svg>
</body></html>
